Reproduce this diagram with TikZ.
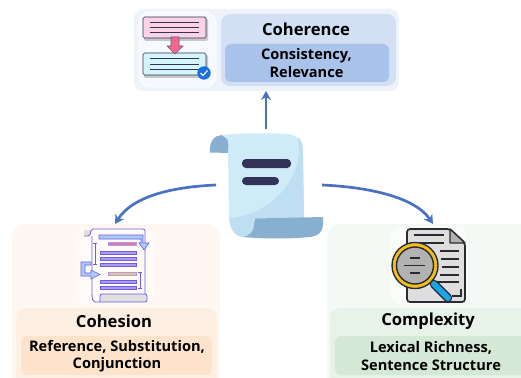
\documentclass[tikz,border=0pt]{standalone}
\usepackage{fontspec}
\setmainfont{Open Sans}
\usetikzlibrary{arrows.meta}
\definecolor{flowblue}{HTML}{4A72C4}
\definecolor{bluea}{HTML}{EEF3FB}
\definecolor{blueb}{HTML}{D3DFF3}
\definecolor{bluec}{HTML}{A9C3EA}
\definecolor{orangea}{HTML}{FFF8F2}
\definecolor{orangeb}{HTML}{FEEFE3}
\definecolor{orangec}{HTML}{FDE3CC}
\definecolor{greena}{HTML}{F4F9F5}
\definecolor{greenb}{HTML}{E7F2E8}
\definecolor{greenc}{HTML}{D5E7D5}
\definecolor{scrolla}{HTML}{CFEBF8}
\definecolor{scrollb}{HTML}{BEDEF2}
\definecolor{scrollc}{HTML}{89AFD0}
\definecolor{scrolld}{HTML}{33335A}
\definecolor{violet}{HTML}{6F5CE0}
\definecolor{violetl}{HTML}{A99CF2}
\definecolor{skyl}{HTML}{A9CCFA}
\definecolor{darkgrey}{HTML}{2A2A32}
\definecolor{notepink}{HTML}{FBD3E4}
\definecolor{notecyan}{HTML}{D4F5FC}
\definecolor{arrowpink}{HTML}{F4688F}
\definecolor{barpink}{HTML}{EE6FA0}
\definecolor{baryellow}{HTML}{EDC777}
\definecolor{lensyellow}{HTML}{F5BE0A}
\definecolor{handleblue}{HTML}{1AA5E6}
\definecolor{tickblue}{HTML}{1572DC}
\tikzset{
  title/.style={font=\fontsize{16.6}{18}\selectfont\bfseries, inner sep=0pt},
  subtitle/.style={font=\fontsize{14.6}{17.5}\selectfont\bfseries, align=center, inner sep=0pt},
  flow/.style={draw=flowblue, line width=2.7pt, -{Stealth[length=9pt,width=10pt]}},
  iconbox/.style={draw=white, line width=.8pt, rounded corners=11pt},
}
\begin{document}
\begin{tikzpicture}[x=1pt, y=-1pt]
  \useasboundingbox (0, 0) rectangle (521, 377);
  \clip (0, 0) rectangle (521, 377);
  % coherence panel
  \fill [bluea, rounded corners=9pt] (134, 9) rectangle (399, 91);
  \draw [iconbox, fill=white!50!bluea] (139, 12) rectangle (216, 87);
  \fill [blueb, rounded corners=9pt] (221, 14) rectangle (396, 86);
  \fill [bluec, rounded corners=6pt] (225, 44) rectangle (389, 82);
  \node (coherence) [title] at (306, 29) {Coherence};
  \node (coherencetext) [subtitle] at (306.5, 63) {Consistency,\\Relevance};
  % cohesion panel
  \fill [orangea, rounded corners=13pt] (12, 224) rectangle (220, 390);
  \draw [iconbox, draw=white!60!orangea, fill=white!50!orangea] (77, 228) rectangle (153, 304);
  \fill [orangeb, rounded corners=10pt] (16, 308) rectangle (217, 385);
  \fill [orangec, rounded corners=6pt] (21, 336) rectangle (212, 375);
  \node (cohesion) [title] at (114, 321) {Cohesion};
  \node (cohesiontext) [subtitle] at (117, 356) {Reference, Substitution,\\Conjunction};
  % complexity panel
  \fill [greena, rounded corners=13pt] (327, 224) rectangle (540, 390);
  \draw [iconbox, draw=white!60!greena, fill=white!50!greena] (390, 227) rectangle (467, 304);
  \fill [greenb, rounded corners=10pt] (330, 308) rectangle (540, 385);
  \fill [greenc, rounded corners=6pt] (335, 336) rectangle (540, 375);
  \node (complexity) [title] at (428, 321) {Complexity};
  \node (complexitytext) [subtitle] at (431, 356) {Lexical Richness,\\Sentence Structure};
  % scroll in the middle
  \fill [scrollc] (210, 152.5) .. controls (209, 141) and (215, 135) .. (222, 135) -- (235, 145) -- (230, 153) -- cycle;
  \fill [scrolla] (222, 135) .. controls (245, 133) and (270, 133) .. (288, 134)
        .. controls (298, 135) and (303, 142) .. (303, 155) -- (304, 217) -- (243, 237)
        .. controls (234, 236) and (230, 228) .. (229, 217) -- (228, 152)
        .. controls (229, 142) and (228, 136) .. (222, 135) -- cycle;
  \fill [scrollb] (298, 137) .. controls (302, 140) and (303, 146) .. (303, 155) -- (304, 218) -- (230, 218)
        .. controls (262, 216) and (297, 190) .. (299, 150) -- cycle;
  \fill [scrollb] (229, 218) -- (254, 218) -- (252, 236) -- (243, 237) .. controls (234, 236) and (230, 228) .. (229, 218) -- cycle;
  \fill [scrollc] (255, 218.5) -- (323, 217) -- (323, 225) .. controls (322, 233) and (318, 236) .. (310, 237)
        .. controls (290, 239) and (265, 239) .. (243, 237) .. controls (250, 236) and (254, 231) .. (254, 225) -- cycle;
  \fill [scrolld, rounded corners=4pt] (242, 159) rectangle (291, 168);
  \fill [scrolld, rounded corners=4pt] (242, 177) rectangle (279, 185);
  % coherence icon
  \fill [black!22, rounded corners=1.5pt] (144, 19) rectangle (208, 41);
  \draw [scrolld, line width=.7pt, fill=notepink, rounded corners=1.5pt] (143, 17) rectangle (206, 38);
  \foreach \y in {22.5, 27.5, 32.5} \draw [scrolld, line width=.8pt] (150, \y) -- (199, \y);
  \fill [black!22, rounded corners=1.5pt] (144, 55) rectangle (208, 78);
  \draw [scrolld, line width=.7pt, fill=notecyan, rounded corners=1.5pt] (143, 53) rectangle (206, 75);
  \foreach \y in {58.5, 64, 69.5} \draw [scrolld, line width=.8pt] (150, \y) -- (199, \y);
  \draw [scrolld!80, line width=.7pt, fill=arrowpink, line join=round] (171, 37) -- (179, 37) -- (179, 46) -- (183, 46) -- (175, 54) -- (167, 46) -- (171, 46) -- cycle;
  \fill [tickblue] (204, 73) circle (6.7);
  \draw [white, line width=1.1pt] (200.5, 73) -- (203, 75.5) -- (207.5, 70.5);
  % cohesion icon
  \fill [black!12] (84, 230) rectangle (90, 236);
  \fill [black!12] (100, 294) rectangle (147, 302);
  \draw [violet, line width=.8pt, rounded corners=2pt] (84, 236) -- (90, 236) -- (91, 229) -- (145, 229) -- (145, 294)
        (92, 236) -- (92, 296) -- (93, 302) -- (147, 302) -- (147, 294) -- (100, 294) -- (100, 302);
  \draw [violet, line width=.6pt, fill=skyl] (99, 235) -- (143, 235) -- (143, 243) -- (149, 243) -- (144, 250) -- (139, 243) -- (141, 243) -- (141, 239) -- (99, 239) -- cycle;
  \draw [violet!60, line width=.4pt, fill=barpink] (108, 242) rectangle (136, 245.5);
  \draw [violet!60, line width=.4pt, fill=baryellow] (108, 272) rectangle (136, 275.5);
  \foreach \y in {251, 257, 263, 280, 286}
    \draw [violet, line width=.5pt, fill=violetl] (100, \y) rectangle (136, \y + 3);
  \draw [violet, line width=.7pt] (95, 243) -- (95, 264) (93, 243) -- (97, 243) (93, 264) -- (97, 264);
  \draw [violet, line width=.7pt] (140, 272) -- (140, 288) (138, 272) -- (142, 272) (138, 288) -- (142, 288);
  \draw [violet, line width=.6pt, fill=skyl] (81, 262) -- (91, 262) -- (91, 265) -- (85, 265) -- (85, 273) -- (91, 273) -- (91, 270) -- (100, 274.5) -- (91, 279) -- (91, 276) -- (81, 276) -- cycle;
  % complexity icon
  \draw [darkgrey, line width=1.7pt, fill=black!13, rounded corners=3pt] (407, 229) -- (450, 229) -- (465, 243) -- (465, 302) -- (407, 302) -- cycle;
  \draw [darkgrey, line width=1.3pt, fill=black!30, line join=round] (450, 229) -- (450, 243) -- (465, 243) -- cycle;
  \foreach \y/\a/\b in {235/414/444, 243/410/444, 251/440/459, 259/441/459, 267/442/459, 275/440/459, 282/436/459}
    \draw [darkgrey, line width=1.5pt] (\a, \y) -- (\b, \y);
  \draw [darkgrey, line width=1.4pt] (452, 296) -- (461, 296) -- (461, 289);
  \draw [darkgrey, line width=8.5pt, line cap=round] (434, 284) -- (448, 298);
  \draw [handleblue, line width=6pt, line cap=round] (434, 284) -- (448, 298);
  \draw [darkgrey, line width=1.4pt, fill=black!30] (415, 265.5) circle (23);
  \draw [lensyellow, line width=3pt] (415, 265.5) circle (20.5);
  \draw [darkgrey, line width=1.4pt, fill=black!30] (415, 265.5) circle (18.5);
  \draw [darkgrey, line width=1.5pt] (410, 258) -- (420, 258) (404, 265.5) -- (425, 265.5) (410, 273) -- (420, 273);
  % connectors
  \coordinate (scrolltop) at (266, 129);
  \coordinate (scrollleft) at (216, 185);
  \coordinate (scrollright) at (322, 185);
  \coordinate (coherencebottom) at (266, 91);
  \coordinate (cohesiontop) at (115, 224);
  \coordinate (complexitytop) at (433, 224);
  \draw [flow] (scrolltop) -- (coherencebottom);
  \draw [flow] (scrollleft) .. controls (170, 187) and (132, 197) .. (cohesiontop);
  \draw [flow] (scrollright) .. controls (368, 187) and (415, 197) .. (complexitytop);
\end{tikzpicture}
\end{document}
